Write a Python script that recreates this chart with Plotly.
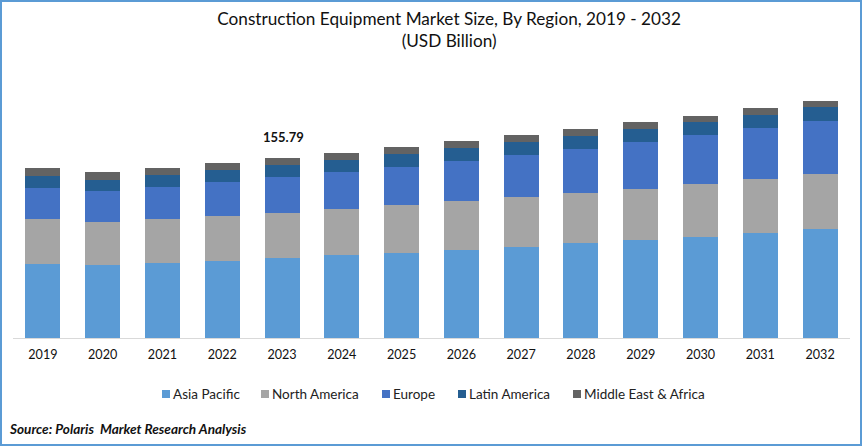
import plotly.graph_objects as go

years = ["2019", "2020", "2021", "2022", "2023", "2024", "2025", "2026", "2027", "2028", "2029", "2030", "2031", "2032"]

# USD billion
asia_pacific = [64.1, 63.2, 64.9, 66.7, 69.3, 71.9, 73.6, 76.2, 78.8, 82.3, 84.9, 87.5, 91.0, 94.4]
north_america = [39.0, 37.2, 38.1, 39.0, 39.0, 39.8, 41.6, 42.4, 43.3, 43.3, 44.2, 45.9, 46.8, 47.6]
europe = [26.8, 26.8, 27.7, 29.4, 31.2, 32.0, 32.9, 34.6, 36.4, 38.1, 40.7, 42.4, 44.2, 45.9]
latin_america = [10.4, 9.5, 10.4, 10.4, 10.4, 10.4, 11.3, 11.3, 11.3, 11.3, 11.3, 11.3, 11.3, 12.1]
middle_east_africa = [6.9, 6.9, 6.1, 6.1, 6.1, 6.1, 6.1, 6.1, 6.1, 6.1, 6.1, 5.2, 6.1, 5.2]

names = ["Asia Pacific", "North America", "Europe", "Latin America", "Middle East & Africa"]
colors = ["#5b9bd5", "#a5a5a5", "#4472c4", "#255e91", "#636363"]
series = [asia_pacific, north_america, europe, latin_america, middle_east_africa]

label_2023 = 155.79

FONT = "Lato"
W, H = 862, 446
L, R, T, B = 13, 12, 60, 108
PW, PH = W - L - R, H - T - B


# pixel position in the picture -> paper coordinates
def px(x):
    return (x - L) / PW


def py(y):
    return (H - B - y) / PH


fig = go.Figure()
for name, color, vals in zip(names, colors, series):
    fig.add_trace(go.Bar(x=years, y=vals, name=name, marker_color=color))

fig.update_traces(width=0.585, marker_line_width=0, hoverinfo="skip")

fig.update_layout(
    width=W,
    height=H,
    barmode="stack",
    showlegend=False,
    paper_bgcolor="white",
    plot_bgcolor="white",
    margin=dict(l=L, r=R, t=T, b=B),
    font=dict(family=FONT, size=13, color="#111111"),
    title=dict(
        text="Construction Equipment Market Size, By Region, 2019 - 2032<br>(USD Billion)",
        x=0.521,
        xanchor="center",
        y=0.945,
        yanchor="top",
        font=dict(family=FONT, size=17.2, color="#111111"),
    ),
    xaxis=dict(
        type="category",
        categoryorder="array",
        categoryarray=years,
        range=[-0.5, 13.5],
        showgrid=False,
        showline=True,
        linecolor="#d9d9d9",
        linewidth=1,
        ticks="",
        ticklabelstandoff=5,
        tickfont=dict(family=FONT, size=12.6, color="#111111"),
    ),
    yaxis=dict(range=[0, 240.7], visible=False),
)

fig.add_annotation(
    x=years.index("2023"), y=label_2023, xref="x", yref="y",
    text="<b>%.2f</b>" % label_2023,
    showarrow=False, yanchor="bottom", yshift=11, xshift=1,
    font=dict(family=FONT, size=13, color="#111111"),
)
fig.add_annotation(
    x=px(7), y=py(429), xref="paper", yref="paper",
    text="<b><i>Source: Polaris  Market Research Analysis</i></b>",
    showarrow=False, xanchor="left", yanchor="middle",
    font=dict(family=FONT, size=13.6, color="#111111"),
)

# legend drawn by hand, the gaps of the built-in one are too wide here
legend_x = [162, 261, 382, 458, 573]
for name, color, x in zip(names, colors, legend_x):
    fig.add_shape(
        type="rect", xref="paper", yref="paper",
        x0=px(x), x1=px(x + 8), y0=py(390), y1=py(398),
        fillcolor=color, line_width=0,
    )
    fig.add_annotation(
        x=px(x + 9), y=py(394), xref="paper", yref="paper",
        text=name, showarrow=False, xanchor="left", yanchor="middle",
        font=dict(family=FONT, size=13.5, color="#222222"),
    )

# the light blue frame around the whole picture
fig.add_shape(
    type="rect", xref="paper", yref="paper",
    x0=px(1), x1=px(W - 1), y0=py(H - 1), y1=py(1),
    line=dict(color="#5b9bd5", width=2), layer="above",
)

fig.write_html("out.html", config=dict(displayModeBar=False), post_script="document.body.style.margin='0';")
